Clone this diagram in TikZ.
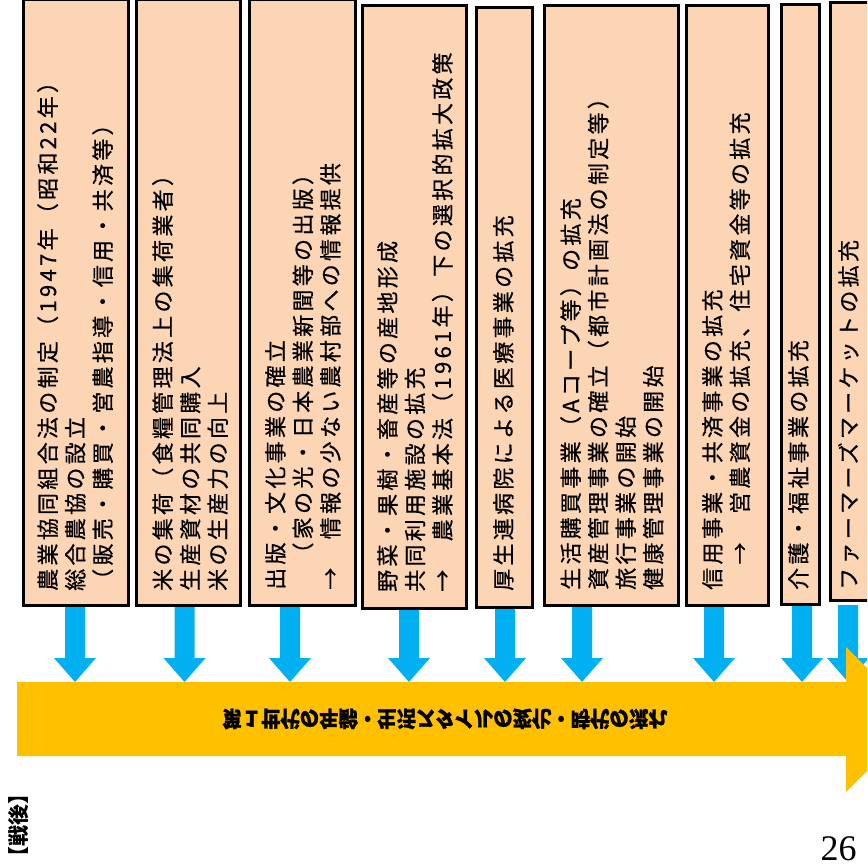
\documentclass[tikz,border=0pt]{standalone}
\usepackage{fontspec}
\usepackage{graphicx}
\newfontfamily\jp{Noto Sans CJK JP}[LetterSpace=15, FakeBold=0.6]
\newfontfamily\jpplain{Noto Sans CJK JP}
\newfontfamily\jpflow{Noto Sans CJK JP}[FakeStretch=0.9, FakeBold=1]
\newfontfamily\numfont{Liberation Serif}
\definecolor{peach}{RGB}{252,213,180}
\definecolor{skyblue}{RGB}{0,176,240}
\definecolor{amber}{RGB}{255,192,0}
\tikzset{
  box/.style={draw=black, line width=3pt, fill=peach, inner sep=0pt, anchor=north west},
  boxtext/.style={rotate=90, anchor=north west, inner sep=0pt, align=left,
    font=\jp\fontsize{22}{27.5}\selectfont},
  bluearrow/.pic={\fill[skyblue] (-10,-1) -- (10,-1) -- (10,52) -- (21,52) -- (0,76) -- (-21,52) -- (-10,52) -- cycle;}
}
\begin{document}
\begin{tikzpicture}[x=1pt,y=-1pt]
\useasboundingbox (0,0) rectangle (867,867);
\clip (0,0) rectangle (867,867);
% blue block arrows
\pic at (75,606) {bluearrow};
\pic at (184.5,606) {bluearrow};
\pic at (290,606) {bluearrow};
\pic at (409,606) {bluearrow};
\pic at (505,606) {bluearrow};
\pic at (582,606) {bluearrow};
\pic at (714,606) {bluearrow};
\pic at (802,606) {bluearrow};
\pic at (848,606) {bluearrow};
% boxes
\node[box, minimum width=105, minimum height=605.5] (b1) at (21.5,-2) {};
\node[box, minimum width=104, minimum height=605.5] (b2) at (134.5,-2) {};
\node[box, minimum width=106, minimum height=605.5] (b3) at (247.5,-2) {};
\node[box, minimum width=104, minimum height=602] (b4) at (360.5,4.5) {};
\node[box, minimum width=56, minimum height=599] (b5) at (474.5,6.5) {};
\node[box, minimum width=134, minimum height=599] (b6) at (542.5,4.5) {};
\node[box, minimum width=82, minimum height=599] (b7) at (684.5,4.5) {};
\node[box, minimum width=38, minimum height=599] (b8) at (779.5,3.5) {};
\node[box, minimum width=60, minimum height=597] (b9) at (828.5,1.5) {};
% box texts
\node[boxtext] (t1) at (37,591) {農業協同組合法の制定（1947年（昭和22年）\\総合農協の設立\\（販売・購買・営農指導・信用・共済等）};
\node[boxtext] (t2) at (152,591) {米の集荷（食糧管理法上の集荷業者）\\生産資材の共同購入\\米の生産力の向上};
\node[boxtext] (t3) at (265,590) {出版・文化事業の確立\\　（家の光・日本農業新聞等の出版）\\→　情報の少ない農村部への情報提供};
\node[boxtext] (t4) at (377,592) {野菜・果樹・畜産等の産地形成\\共同利用施設の拡充\\→　農業基本法（1961年）下の選択的拡大政策};
\node[boxtext] (t5) at (493,591) {厚生連病院による医療事業の拡充};
\node[boxtext] (t6) at (560,590) {生活購買事業（Aコープ等）の拡充\\資産管理事業の確立（都市計画法の制定等）\\旅行事業の開始\\健康管理事業の開始};
\node[boxtext] (t7) at (702,590) {信用事業・共済事業の拡充\\　→　営農資金の拡充、住宅資金等の拡充};
\node[boxtext] (t8) at (788,590) {介護・福祉事業の拡充};
\node[boxtext] (t9) at (838,590) {ファーマーズマーケットの拡充};
% big orange arrow
\fill[amber] (17,682) -- (846,682) -- (846,647) -- (919,719.5) -- (846,792) -- (846,756) -- (17,756) -- cycle;
\node[inner sep=0pt] (flow) at (445,719) {\scalebox{1}[-1]{\jpflow\bfseries\fontsize{21.5}{22}\selectfont 第１世代の年齢・生活スタイルの変化・時代の流れ}};
% labels
\node[rotate=90, inner sep=0pt, font=\jpplain\bfseries\fontsize{21}{21}\selectfont] (sengo) at (19,825) {【戦後】};
\node[anchor=base, inner sep=0pt, font=\numfont\fontsize{36}{36}\selectfont] (page) at (838.5,860) {26};
\end{tikzpicture}
\end{document}
